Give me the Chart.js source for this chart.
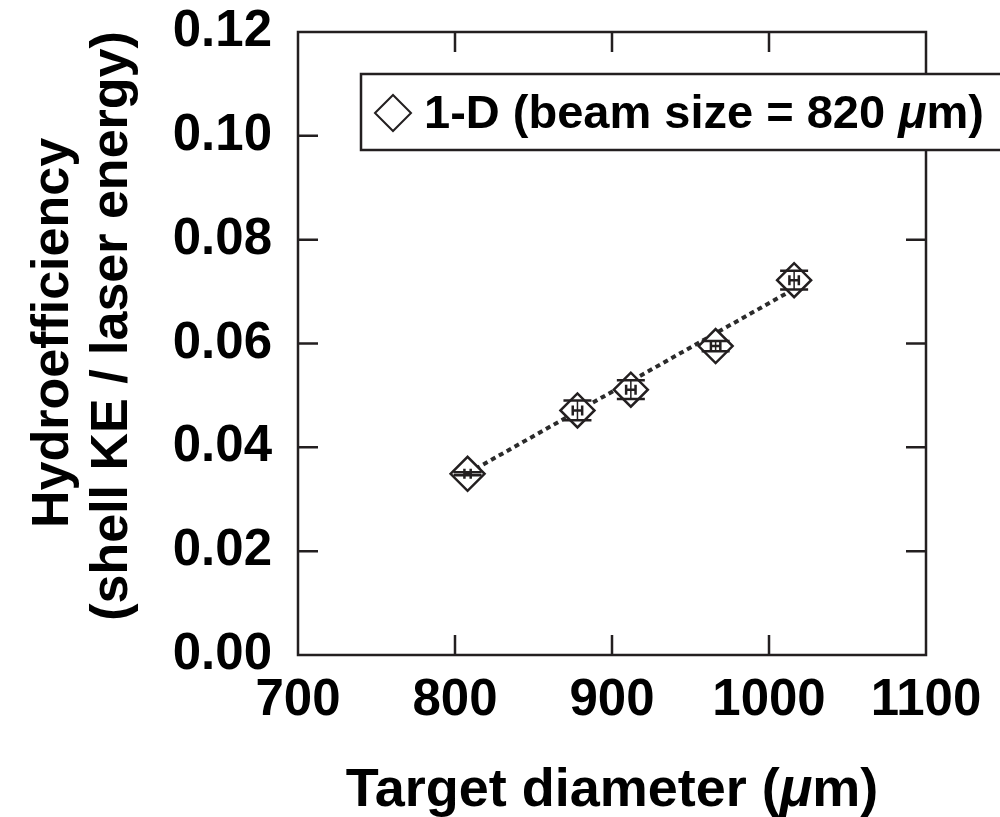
<!DOCTYPE html>
<html>
<head>
<meta charset="utf-8">
<script src="https://cdn.jsdelivr.net/npm/chart.js@4.4.0/dist/chart.umd.min.js"></script>
<style>
  html, body { margin: 0; padding: 0; background: #fff; }
  #wrap { width: 1000px; height: 817px; }
</style>
</head>
<body>
<div id="wrap"><canvas id="hydro-chart" width="1000" height="817"></canvas></div>
<script>
// Hydroefficiency vs target diameter (1-D runs)
const diameters = [808, 878, 912, 966, 1016];            // um
const hydroEff  = [0.0349, 0.0471, 0.0511, 0.0595, 0.0722];
const diamErr   = [2, 3, 3, 3, 3];                        // um
const effErr    = [0.0003, 0.0019, 0.0018, 0.0010, 0.0018];

// dotted fit line
const fitDiam = [808, 1016];
const fitEff  = [0.0350, 0.0705];

const xTicks = [700, 800, 900, 1000, 1100];
const yTicks = [0.00, 0.02, 0.04, 0.06, 0.08, 0.10, 0.12];

const legendText = [['1-D (beam size = 820 ', false], ['\u03BC', true], ['m)', false]];
const xTitle = [['Target diameter (', false], ['\u03BC', true], ['m)', false]];
const yTitle1 = [['Hydroefficiency', false]];
const yTitle2 = [['(shell KE / laser energy)', false]];

const ink = '#231f20';
const FONT = '"Liberation Sans", Arial, Helvetica, sans-serif';

// draw a line of text with some italic pieces, centred or left aligned
function richText(ctx, parts, x, y, size, align) {
  const fontFor = it => (it ? 'italic ' : '') + 'bold ' + size + 'px ' + FONT;
  let total = 0;
  parts.forEach(p => { ctx.font = fontFor(p[1]); total += ctx.measureText(p[0]).width; });
  let cx = align === 'center' ? x - total / 2 : x;
  ctx.textAlign = 'left';
  ctx.textBaseline = 'alphabetic';
  parts.forEach(p => {
    ctx.font = fontFor(p[1]);
    ctx.fillText(p[0], cx, y);
    cx += ctx.measureText(p[0]).width;
  });
}

// frame plus inward ticks on all four sides
const framePlugin = {
  id: 'frame',
  beforeDatasetsDraw(chart) {
    const {ctx, chartArea: a, scales: {x, y}} = chart;
    const len = 20;
    ctx.save();
    ctx.strokeStyle = ink;
    ctx.lineWidth = 2.5;
    ctx.beginPath();
    ctx.rect(a.left, a.top, a.right - a.left, a.bottom - a.top);
    xTicks.slice(1, -1).forEach(v => {
      const px = x.getPixelForValue(v);
      ctx.moveTo(px, a.bottom); ctx.lineTo(px, a.bottom - len);
      ctx.moveTo(px, a.top); ctx.lineTo(px, a.top + len);
    });
    yTicks.slice(1, -1).forEach(v => {
      const py = y.getPixelForValue(v);
      ctx.moveTo(a.left, py); ctx.lineTo(a.left + len, py);
      ctx.moveTo(a.right, py); ctx.lineTo(a.right - len, py);
    });
    ctx.stroke();
    ctx.restore();
  }
};

const errorBars = {
  id: 'errorBars',
  afterDatasetsDraw(chart) {
    const {ctx, scales: {x, y}} = chart;
    ctx.save();
    ctx.strokeStyle = ink;
    diameters.forEach((d, i) => {
      const px = x.getPixelForValue(d);
      const py = y.getPixelForValue(hydroEff[i]);
      const yTop = y.getPixelForValue(hydroEff[i] + effErr[i]);
      const yBot = y.getPixelForValue(hydroEff[i] - effErr[i]);
      const xL = x.getPixelForValue(d - diamErr[i]);
      const xR = x.getPixelForValue(d + diamErr[i]);
      ctx.lineWidth = 2.5;
      ctx.beginPath();
      ctx.moveTo(px - 14, yTop); ctx.lineTo(px + 14, yTop);
      ctx.moveTo(px - 14, yBot); ctx.lineTo(px + 14, yBot);
      ctx.moveTo(xL, py); ctx.lineTo(xR, py);
      ctx.moveTo(xL, py - 5); ctx.lineTo(xL, py + 5);
      ctx.moveTo(xR, py - 5); ctx.lineTo(xR, py + 5);
      ctx.stroke();
      ctx.lineWidth = 1.5;
      ctx.beginPath();
      ctx.moveTo(px, yTop); ctx.lineTo(px, yBot);
      ctx.stroke();
    });
    ctx.restore();
  }
};

// boxed legend and axis titles (titles carry an italic mu)
const annotations = {
  id: 'annotations',
  afterDraw(chart) {
    const {ctx, chartArea: a} = chart;
    ctx.save();
    // legend box
    ctx.fillStyle = '#fff';
    ctx.strokeStyle = ink;
    ctx.lineWidth = 2.5;
    ctx.fillRect(361, 74, 660, 76);
    ctx.strokeRect(361, 74, 660, 76);
    ctx.lineWidth = 2;
    ctx.beginPath();
    ctx.moveTo(375, 113); ctx.lineTo(393, 95); ctx.lineTo(411, 113); ctx.lineTo(393, 131);
    ctx.closePath();
    ctx.stroke();
    ctx.fillStyle = '#000';
    richText(ctx, legendText, 424, 128, 47, 'left');

    // x title
    richText(ctx, xTitle, (a.left + a.right) / 2, 806, 54, 'center');

    // y title, two lines, rotated
    [[yTitle1, 68, 333], [yTitle2, 127, 326]].forEach(([parts, bx, yc]) => {
      ctx.save();
      ctx.translate(bx, yc);
      ctx.rotate(-Math.PI / 2);
      richText(ctx, parts, 0, 0, 52, 'center');
      ctx.restore();
    });
    ctx.restore();
  }
};

const ctx = document.getElementById('hydro-chart').getContext('2d');
const hydroChart = new Chart(ctx, {
  type: 'scatter',
  data: {
    datasets: [
      {
        label: '1-D (beam size = 820 \u03BCm)',
        data: diameters.map((d, i) => ({x: d, y: hydroEff[i]})),
        pointStyle: 'rectRot',
        pointRadius: 17,
        pointBorderWidth: 2.5,
        pointBorderColor: ink,
        pointBackgroundColor: '#fff',
        showLine: false
      },
      {
        label: 'fit',
        data: fitDiam.map((d, i) => ({x: d, y: fitEff[i]})),
        showLine: true,
        borderColor: '#2b2b2b',
        borderWidth: 4,
        borderDash: [5, 4],
        pointRadius: 0
      }
    ]
  },
  options: {
    responsive: false,
    devicePixelRatio: 1,
    animation: false,
    layout: { padding: { top: 32, right: 74, left: 0, bottom: 0 } },
    plugins: {
      legend: { display: false },
      tooltip: { enabled: false }
    },
    scales: {
      x: {
        type: 'linear',
        min: 700, max: 1100,
        afterBuildTicks: s => { s.ticks = xTicks.map(v => ({value: v})); },
        afterFit: s => { s.height = 162; s.paddingLeft = 0; s.paddingRight = 0; },
        grid: { display: false, drawTicks: false },
        border: { display: false },
        ticks: {
          padding: 15,
          color: '#000',
          font: { family: FONT, size: 51, weight: 'bold' },
          callback: v => String(v)
        }
      },
      y: {
        type: 'linear',
        min: 0, max: 0.12,
        afterBuildTicks: s => { s.ticks = yTicks.map(v => ({value: v})); },
        afterFit: s => { s.width = 298; s.paddingTop = 0; s.paddingBottom = 0; },
        grid: { display: false, drawTicks: false },
        border: { display: false },
        ticks: {
          padding: 26,
          color: '#000',
          font: { family: FONT, size: 51, weight: 'bold' },
          callback: v => v.toFixed(2)
        }
      }
    }
  },
  plugins: [framePlugin, errorBars, annotations]
});
</script>
</body>
</html>
